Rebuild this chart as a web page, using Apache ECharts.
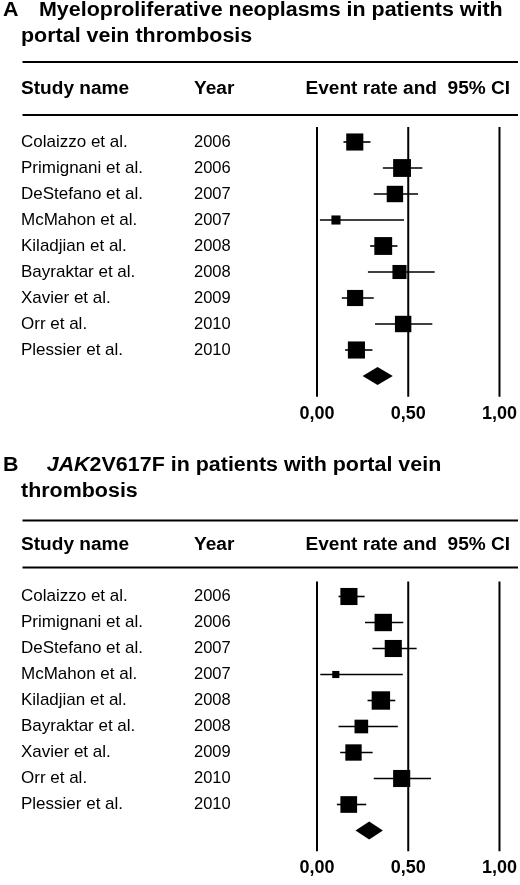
<!DOCTYPE html>
<html>
<head>
<meta charset="utf-8">
<script src="https://cdn.jsdelivr.net/npm/echarts@6/dist/echarts.min.js"></script>
<style>
html,body{margin:0;padding:0;background:#fff;}
#c{width:520px;height:885px;}
</style>
</head>
<body>
<div id="c"></div>
<script>
// ---- data ----
const studies = ["Colaizzo et al.","Primignani et al.","DeStefano et al.","McMahon et al.","Kiladjian et al.","Bayraktar et al.","Xavier et al.","Orr et al.","Plessier et al."];
const years = ["2006","2006","2007","2007","2008","2008","2009","2010","2010"];
const xTicks = [0, 0.5, 1];

// Panel A: Myeloproliferative neoplasms
const estA = [0.207, 0.466, 0.427, 0.104, 0.363, 0.452, 0.209, 0.472, 0.216];
const lowA = [0.145, 0.361, 0.311, 0.016, 0.291, 0.279, 0.136, 0.318, 0.154];
const highA = [0.293, 0.577, 0.554, 0.477, 0.441, 0.645, 0.311, 0.632, 0.304];
const weightA = [12.7, 13.8, 11.7, 3.6, 13.8, 8.6, 11.3, 11.7, 12.7];
const pooledA = [0.332, 0.250, 0.415];

// Panel B: JAK2V617F
const estB = [0.175, 0.363, 0.418, 0.103, 0.350, 0.243, 0.200, 0.464, 0.174];
const lowB = [0.118, 0.263, 0.304, 0.018, 0.277, 0.118, 0.127, 0.311, 0.109];
const highB = [0.261, 0.473, 0.546, 0.470, 0.429, 0.443, 0.305, 0.625, 0.270];
const weightB = [12.7, 13.1, 12.7, 2.2, 14.7, 8.1, 11.6, 12.7, 12.1];
const pooledB = [0.286, 0.211, 0.361];

// ---- chart ----
const FF = '"Liberation Sans", Arial, Helvetica, sans-serif';
const chart = echarts.init(document.getElementById('c'), null, {renderer:'canvas'});

function fmt(v){ return v.toFixed(2).replace('.', ','); }

function xAxisFor(i){
  return {gridIndex:i, type:'value', min:0, max:1, interval:0.5,
    axisLine:{show:false}, axisTick:{show:false}, splitLine:{show:false},
    axisLabel:{formatter:fmt, fontSize:18, fontWeight:'bold', color:'#000', fontFamily:FF, margin:3,
      showMinLabel:true, showMaxLabel:true}};
}
function yAxisFor(i){
  return {gridIndex:i, type:'value', inverse:true, min:-1, max:10, interval:1,
    axisLine:{show:false}, axisTick:{show:false}, splitLine:{show:false},
    axisLabel:{align:'left', margin:296, color:'#000', fontFamily:FF,
      formatter:function(v){
        if (v >= 0 && v < studies.length && Number.isInteger(v)) return '{n|' + studies[v] + '}{y|' + years[v] + '}';
        return '';
      },
      rich:{n:{width:173, fontSize:17, fontFamily:FF, color:'#000'}, y:{fontSize:16.5, fontFamily:FF, color:'#000'}}
    }};
}

function refLines(i){
  return {type:'custom', xAxisIndex:i, yAxisIndex:i, silent:true,
    data: xTicks.map(v => [v, -0.58, 9.8]),
    encode:{x:0, y:[1,2]},
    renderItem:function(params, api){
      const p1 = api.coord([api.value(0), api.value(1)]);
      const p2 = api.coord([api.value(0), api.value(2)]);
      return {type:'line', shape:{x1:p1[0], y1:p1[1], x2:p2[0], y2:p2[1]}, style:{stroke:'#000', lineWidth:2}};
    }};
}

function studyRows(i, est, low, high, w){
  return {type:'custom', xAxisIndex:i, yAxisIndex:i, silent:true,
    data: est.map((e, k) => [e, k, low[k], high[k], w[k]]),
    encode:{x:[0,2,3], y:1},
    renderItem:function(params, api){
      const c = api.coord([api.value(0), api.value(1)]);
      const lo = api.coord([api.value(2), api.value(1)]);
      const hi = api.coord([api.value(3), api.value(1)]);
      const s = 4.8 * Math.sqrt(api.value(4));
      return {type:'group', children:[
        {type:'line', shape:{x1:lo[0], y1:c[1], x2:hi[0], y2:c[1]}, style:{stroke:'#000', lineWidth:1.6}},
        {type:'rect', shape:{x:c[0]-s/2, y:c[1]-s/2, width:s, height:s}, style:{fill:'#000'}}
      ]};
    }};
}

function diamond(i, pooled){
  return {type:'custom', xAxisIndex:i, yAxisIndex:i, silent:true,
    data: [[pooled[0], studies.length, pooled[1], pooled[2]]],
    encode:{x:[0,2,3], y:1},
    renderItem:function(params, api){
      const c = api.coord([api.value(0), api.value(1)]);
      const lo = api.coord([api.value(2), api.value(1)]);
      const hi = api.coord([api.value(3), api.value(1)]);
      const h = 9;
      return {type:'polygon', shape:{points:[[lo[0], c[1]], [c[0], c[1]-h], [hi[0], c[1]], [c[0], c[1]+h]]}, style:{fill:'#000'}};
    }};
}

function txt(x, y, text, size, sx){
  return {type:'text', x:x, y:y, scaleX:sx, silent:true,
    style:{x:0, y:0, text:text, fontSize:size, fontWeight:'bold', fontFamily:FF, fill:'#000', textVerticalAlign:'middle', textAlign:'left'}};
}
function rule(y){
  return {type:'line', silent:true, shape:{x1:22.5, y1:y, x2:518, y2:y}, style:{stroke:'#000', lineWidth:2}};
}

const graphics = [
  // Panel A
  txt(3, 11, 'A', 19.5, 1.1),
  txt(39, 11, 'Myeloproliferative neoplasms in patients with', 19.5, 1.1),
  txt(21, 36.5, 'portal vein thrombosis', 19.5, 1.1),
  rule(62),
  txt(21, 89, 'Study name', 17.5, 1.09),
  txt(194, 89, 'Year', 17.5, 1.09),
  txt(305.5, 89, 'Event rate and  95% CI', 17.5, 1.09),
  rule(115),
  // Panel B
  txt(3, 465.5, 'B', 19.5, 1.1),
  {type:'text', x:46.7, y:465.5, scaleX:1.1, silent:true,
    style:{x:0, y:0, text:'{i|JAK}2V617F in patients with portal vein', fontSize:19.5, fontWeight:'bold', fontFamily:FF, fill:'#000', textVerticalAlign:'middle', textAlign:'left',
      rich:{i:{fontStyle:'italic', fontWeight:'bold', fontSize:19.5, fontFamily:FF, fill:'#000'}}}},
  txt(21, 491.5, 'thrombosis', 19.5, 1.1),
  rule(520.5),
  txt(21, 545.5, 'Study name', 17.5, 1.09),
  txt(194, 545.5, 'Year', 17.5, 1.09),
  txt(305.5, 545.5, 'Event rate and  95% CI', 17.5, 1.09),
  rule(567.5)
];

chart.setOption({
  animation:false,
  backgroundColor:'#ffffff',
  grid:[
    {left:317, width:187, top:116, height:286},
    {left:317, width:187, top:570.5, height:286}
  ],
  xAxis:[xAxisFor(0), xAxisFor(1)],
  yAxis:[yAxisFor(0), yAxisFor(1)],
  series:[
    refLines(0), studyRows(0, estA, lowA, highA, weightA), diamond(0, pooledA),
    refLines(1), studyRows(1, estB, lowB, highB, weightB), diamond(1, pooledB)
  ],
  graphic: graphics
});
</script>
</body>
</html>
